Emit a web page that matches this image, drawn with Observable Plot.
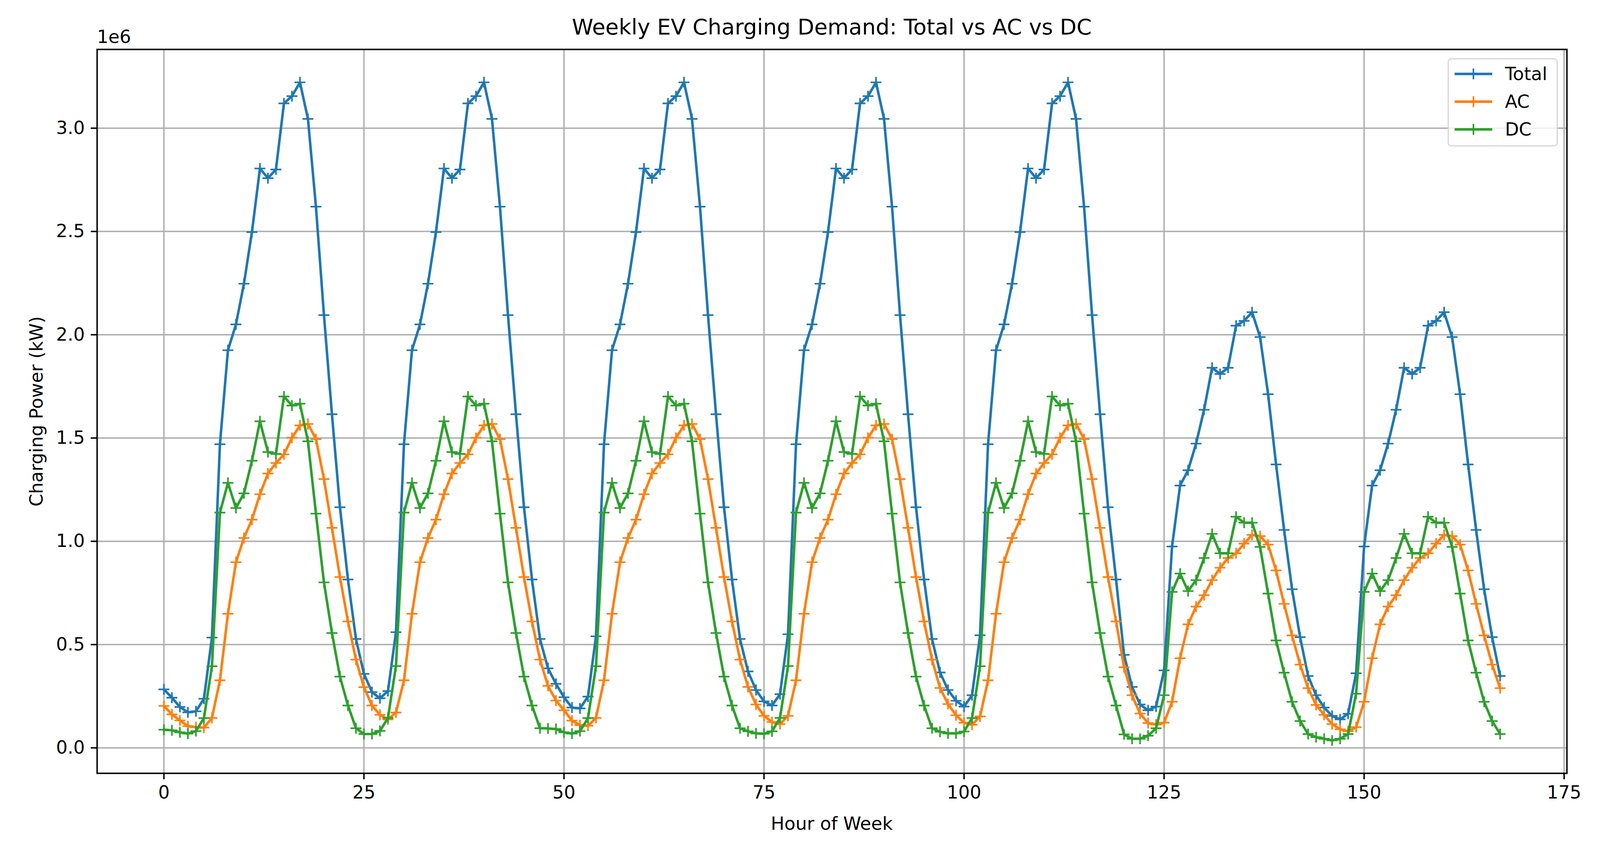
<!DOCTYPE html>
<html>
<head>
<meta charset="utf-8">
<script src="https://cdn.jsdelivr.net/npm/d3@7"></script>
<script src="https://cdn.jsdelivr.net/npm/@observablehq/plot@0.6"></script>
<style>
  html, body { margin: 0; padding: 0; background: #fff; overflow: hidden; }
  #fig { position: relative; font-family: "DejaVu Sans", sans-serif; color: #000; background: #fff; overflow: hidden; }
  #fig div, #fig span { line-height: 1; white-space: nowrap; }
  #title, #offset, #chart, #xlabel, #ylabel, #legend { position: absolute; }
  #title, #xlabel { text-align: center; }
  #ylabel { transform: translate(-50%, -50%) rotate(-90deg); }
  #legend { box-sizing: border-box; border-style: solid; border-color: rgba(204,204,204,0.8); background: rgba(255,255,255,0.8); }
  .row { position: absolute; left: 0; }
  .row svg { position: absolute; top: 0; }
  .row span { position: absolute; top: 0; }
</style>
</head>
<body>
<div id="fig">
  <div id="title">Weekly EV Charging Demand: Total vs AC vs DC</div>
  <div id="offset">1e6</div>
  <div id="chart"></div>
  <div id="xlabel"></div>
  <div id="ylabel"></div>
  <div id="legend"></div>
</div>
<script>
// ---- data (values in units of 1e6 kW) ----
const seriesNames = ["Total", "AC", "DC"];
const seriesColors = ["#1f77b4", "#ff7f0e", "#2ca02c"];
const xTicks = [0, 25, 50, 75, 100, 125, 150, 175];
const yTicks = [0, 0.5, 1.0, 1.5, 2.0, 2.5, 3.0];
const xLabel = "Hour of Week";
const yLabel = "Charging Power (kW)";

const total = [
  0.283, 0.243, 0.198, 0.172, 0.177, 0.238, 0.534,
  1.470, 1.925, 2.050, 2.247, 2.497, 2.805, 2.758, 2.800, 3.120, 3.155, 3.222, 3.045, 2.620, 2.095, 1.615, 1.165, 0.815, 0.527,
  0.358, 0.270, 0.240, 0.275, 0.560,
  1.470, 1.925, 2.050, 2.247, 2.497, 2.805, 2.758, 2.800, 3.120, 3.155, 3.222, 3.045, 2.620, 2.095, 1.615, 1.165, 0.815, 0.527,
  0.385, 0.310, 0.245, 0.195, 0.191, 0.248, 0.540,
  1.470, 1.925, 2.050, 2.247, 2.497, 2.805, 2.758, 2.800, 3.120, 3.155, 3.222, 3.045, 2.620, 2.095, 1.615, 1.165, 0.815, 0.527,
  0.370, 0.280, 0.225, 0.205, 0.260, 0.550,
  1.470, 1.925, 2.050, 2.247, 2.497, 2.805, 2.758, 2.800, 3.120, 3.155, 3.222, 3.045, 2.620, 2.095, 1.615, 1.165, 0.815, 0.527,
  0.365, 0.280, 0.228, 0.200, 0.255, 0.545,
  1.470, 1.925, 2.050, 2.247, 2.497, 2.805, 2.758, 2.800, 3.120, 3.155, 3.222, 3.045, 2.620, 2.095, 1.615, 1.165, 0.815,
  0.450, 0.295, 0.210, 0.182, 0.200, 0.375,
  0.975, 1.270, 1.344, 1.473, 1.637, 1.840, 1.810, 1.840, 2.044, 2.067, 2.109, 1.989, 1.712, 1.372, 1.055, 0.768, 0.536, 0.348,
  0.255, 0.195, 0.155, 0.138, 0.165, 0.361,
  0.975, 1.270, 1.344, 1.473, 1.637, 1.840, 1.810, 1.840, 2.044, 2.067, 2.109, 1.989, 1.712, 1.372, 1.055, 0.768, 0.536, 0.348
];

const ac = [
  0.203, 0.162, 0.133, 0.105, 0.100, 0.098, 0.145,
  0.327, 0.649, 0.899, 1.016, 1.105, 1.228, 1.328, 1.379, 1.421, 1.501, 1.561, 1.568, 1.495, 1.301, 1.065, 0.827, 0.612, 0.427,
  0.294, 0.205, 0.160, 0.138, 0.171,
  0.327, 0.649, 0.899, 1.016, 1.105, 1.228, 1.328, 1.379, 1.421, 1.501, 1.561, 1.568, 1.495, 1.301, 1.065, 0.827, 0.612, 0.427,
  0.300, 0.229, 0.182, 0.132, 0.110, 0.107, 0.145,
  0.327, 0.649, 0.899, 1.016, 1.105, 1.228, 1.328, 1.379, 1.421, 1.501, 1.561, 1.568, 1.495, 1.301, 1.065, 0.827, 0.612, 0.427,
  0.295, 0.210, 0.155, 0.125, 0.115, 0.155,
  0.327, 0.649, 0.899, 1.016, 1.105, 1.228, 1.328, 1.379, 1.421, 1.501, 1.561, 1.568, 1.495, 1.301, 1.065, 0.827, 0.612, 0.427,
  0.290, 0.212, 0.158, 0.122, 0.112, 0.152,
  0.327, 0.649, 0.899, 1.016, 1.105, 1.228, 1.328, 1.379, 1.421, 1.501, 1.561, 1.568, 1.495, 1.301, 1.065, 0.827, 0.612,
  0.390, 0.255, 0.166, 0.120, 0.113, 0.122,
  0.223, 0.434, 0.598, 0.684, 0.739, 0.812, 0.872, 0.919, 0.942, 0.989, 1.031, 1.025, 0.984, 0.859, 0.697, 0.544, 0.403, 0.289,
  0.208, 0.160, 0.115, 0.090, 0.080, 0.100,
  0.223, 0.434, 0.598, 0.684, 0.739, 0.812, 0.872, 0.919, 0.942, 0.989, 1.031, 1.025, 0.984, 0.859, 0.697, 0.544, 0.403, 0.289
];

const dc = [
  0.088, 0.085, 0.075, 0.069, 0.081, 0.144, 0.395,
  1.139, 1.283, 1.161, 1.232, 1.390, 1.581, 1.432, 1.423, 1.701, 1.657, 1.666, 1.484, 1.134, 0.801, 0.556, 0.345, 0.205, 0.095,
  0.067, 0.067, 0.082, 0.145, 0.396,
  1.139, 1.283, 1.161, 1.232, 1.390, 1.581, 1.432, 1.423, 1.701, 1.657, 1.666, 1.484, 1.134, 0.801, 0.556, 0.345, 0.205, 0.095,
  0.094, 0.091, 0.075, 0.069, 0.081, 0.144, 0.395,
  1.139, 1.283, 1.161, 1.232, 1.390, 1.581, 1.432, 1.423, 1.701, 1.657, 1.666, 1.484, 1.134, 0.801, 0.556, 0.345, 0.205, 0.095,
  0.080, 0.070, 0.068, 0.080, 0.145, 0.396,
  1.139, 1.283, 1.161, 1.232, 1.390, 1.581, 1.432, 1.423, 1.701, 1.657, 1.666, 1.484, 1.134, 0.801, 0.556, 0.345, 0.205, 0.095,
  0.078, 0.070, 0.070, 0.079, 0.144, 0.395,
  1.139, 1.283, 1.161, 1.232, 1.390, 1.581, 1.432, 1.423, 1.701, 1.657, 1.666, 1.484, 1.134, 0.801, 0.556, 0.345, 0.205,
  0.065, 0.044, 0.044, 0.059, 0.095, 0.255,
  0.755, 0.844, 0.759, 0.812, 0.919, 1.036, 0.942, 0.942, 1.119, 1.090, 1.090, 0.973, 0.747, 0.520, 0.364, 0.223, 0.130, 0.067,
  0.052, 0.044, 0.036, 0.044, 0.067, 0.262,
  0.755, 0.844, 0.759, 0.812, 0.919, 1.036, 0.942, 0.942, 1.119, 1.090, 1.090, 0.973, 0.747, 0.520, 0.364, 0.223, 0.130, 0.067
];

// ---- build table ----
const seriesValues = [total, ac, dc];
const rows = [];
seriesNames.forEach((name, k) => {
  seriesValues[k].forEach((v, h) => rows.push({ hour: h, value: v, series: name }));
});

// matplotlib-like "+" marker
const plusSymbol = {
  draw(context, size) {
    const r = Math.sqrt(size / Math.PI);
    context.moveTo(-r, 0); context.lineTo(r, 0);
    context.moveTo(0, -r); context.lineTo(0, r);
  }
};

// x/y limits like matplotlib (5% margins)
const n = total.length;
const allVals = rows.map(d => d.value);
const yMin = d3.min(allVals), yMax = d3.max(allVals);
const yPad = (yMax - yMin) * 0.05;
const xPad = (n - 1) * 0.05;

// design reference size and layout (in reference pixels)
const REF_W = 4424, REF_H = 2186;
const FRAME = { left: 268, right: 4332, top: 126, bottom: 1979 };

function render() {
  const W = window.innerWidth || REF_W;
  const H = window.innerHeight || REF_H;
  const sx = W / REF_W, sy = H / REF_H, sf = Math.min(sx, sy);
  const fig = document.getElementById("fig");
  fig.style.width = W + "px";
  fig.style.height = H + "px";

  const ASC = 0.846; // baseline offset in em for line-height 1 (DejaVu Sans)

  // title
  const title = document.getElementById("title");
  const tfs = 60 * sf;
  title.style.fontSize = tfs + "px";
  title.style.left = "0px";
  title.style.width = (2 * ((FRAME.left + FRAME.right) / 2) * sx) + "px";
  title.style.top = (88 * sy - ASC * tfs) + "px";

  // offset text "1e6"
  const off = document.getElementById("offset");
  const sfs = 50 * sf;
  off.style.fontSize = sfs + "px";
  off.style.left = (FRAME.left * sx) + "px";
  off.style.top = (110 * sy - ASC * sfs) + "px";

  // chart
  const svgTop = 108 * sy;
  const chartDiv = document.getElementById("chart");
  chartDiv.style.left = "0px";
  chartDiv.style.top = svgTop + "px";
  chartDiv.innerHTML = "";

  const marks = [
    Plot.gridX(xTicks, { stroke: "#b0b0b0", strokeOpacity: 1, strokeWidth: 4 * sf }),
    Plot.gridY(yTicks, { stroke: "#b0b0b0", strokeOpacity: 1, strokeWidth: 4 * sf })
  ];
  seriesNames.forEach(name => {
    const d = rows.filter(r => r.series === name);
    marks.push(Plot.line(d, { x: "hour", y: "value", stroke: "series", strokeWidth: 7 * sf, strokeLinejoin: "round", strokeLinecap: "square" }));
    marks.push(Plot.dot(d, { x: "hour", y: "value", stroke: "series", fill: "none", symbol: plusSymbol, r: 15 * sf, strokeWidth: 4.5 * sf }));
  });
  marks.push(Plot.frame({ stroke: "#000", strokeWidth: 4 * sf }));
  marks.push(Plot.axisX(xTicks, { tickSize: 17 * sf, tickPadding: 17 * sf, fontSize: sfs, strokeWidth: 4 * sf, label: null, tickFormat: d => String(d) }));
  marks.push(Plot.axisY(yTicks, { tickSize: 17 * sf, tickPadding: 17 * sf, fontSize: sfs, strokeWidth: 4 * sf, label: null, tickFormat: d3.format(".1f") }));

  const chart = Plot.plot({
    width: W,
    height: H - svgTop,
    marginTop: FRAME.top * sy - svgTop,
    marginBottom: (REF_H - FRAME.bottom) * sy,
    marginLeft: FRAME.left * sx,
    marginRight: (REF_W - FRAME.right) * sx,
    x: { domain: [0 - xPad, (n - 1) + xPad] },
    y: { domain: [yMin - yPad, yMax + yPad] },
    color: { domain: seriesNames, range: seriesColors },
    style: { fontFamily: "DejaVu Sans", color: "#000", background: "transparent", overflow: "visible" },
    marks
  });
  chartDiv.appendChild(chart);

  // x label
  const xl = document.getElementById("xlabel");
  xl.textContent = xLabel;
  xl.style.fontSize = sfs + "px";
  xl.style.left = "0px";
  xl.style.width = ((FRAME.left + FRAME.right) * sx) + "px";
  xl.style.top = (2124 * sy - ASC * sfs) + "px";

  // y label
  const yl = document.getElementById("ylabel");
  yl.textContent = yLabel;
  yl.style.fontSize = sfs + "px";
  yl.style.left = (100 * sx) + "px";
  yl.style.top = (((FRAME.top + FRAME.bottom) / 2) * sy) + "px";

  // legend (matplotlib 'upper right', sizes in font units)
  const legend = document.getElementById("legend");
  legend.innerHTML = "";
  const lw = 304 * sf, lh = 244 * sf;
  legend.style.width = lw + "px";
  legend.style.height = lh + "px";
  legend.style.left = (FRAME.right * sx - 25 * sf - lw) + "px";
  legend.style.top = (FRAME.top * sy + 25 * sf) + "px";
  legend.style.borderWidth = (3.5 * sf) + "px";
  legend.style.borderRadius = (10 * sf) + "px";
  const rowCenters = [40, 117, 193];
  seriesNames.forEach((name, i) => {
    const row = document.createElement("div");
    row.className = "row";
    row.style.top = ((rowCenters[i] - 25) * sf) + "px";
    row.style.height = (50 * sf) + "px";
    row.style.width = (300 * sf) + "px";
    const c = seriesColors[i];
    row.innerHTML =
      `<svg width="${108 * sf}" height="${50 * sf}" viewBox="0 0 108 50" style="left:${14 * sf}px">
         <line x1="2" y1="25" x2="106" y2="25" stroke="${c}" stroke-width="7" />
         <line x1="39" y1="25" x2="69" y2="25" stroke="${c}" stroke-width="4.5" />
         <line x1="54" y1="10" x2="54" y2="40" stroke="${c}" stroke-width="4.5" />
       </svg><span style="left:${155 * sf}px;font-size:${sfs}px;line-height:${50 * sf}px">${name}</span>`;
    legend.appendChild(row);
  });
}
render();
window.addEventListener("resize", render);
</script>
</body>
</html>
